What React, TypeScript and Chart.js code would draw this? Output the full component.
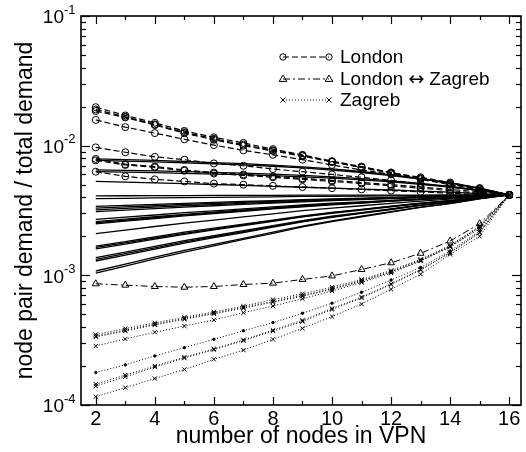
import React, { useEffect, useRef } from "react";
import { Chart, registerables } from "chart.js";

Chart.register(...registerables);

// number of nodes in VPN
const NODES = [2, 3, 4, 5, 6, 7, 8, 9, 10, 11, 12, 13, 14, 15, 16];

// London pairs (dashed, circles)
const LONDON_1 = [0.0198, 0.0171, 0.015, 0.013, 0.0116, 0.0105, 0.0094, 0.0085, 0.0076, 0.0069, 0.0062, 0.0057, 0.0052, 0.0047, 0.00417];
const LONDON_2 = [0.019, 0.0167, 0.0146, 0.0127, 0.0113, 0.0102, 0.0092, 0.0084, 0.0075, 0.0068, 0.0062, 0.0056, 0.0051, 0.0047, 0.00417];
const LONDON_3 = [0.0185, 0.0165, 0.0144, 0.0125, 0.0111, 0.01, 0.0091, 0.0083, 0.0075, 0.0068, 0.0061, 0.0056, 0.0051, 0.0046, 0.00417];
const LONDON_4 = [0.0158, 0.0139, 0.0125, 0.0112, 0.0101, 0.0092, 0.0085, 0.0078, 0.0071, 0.0065, 0.006, 0.0055, 0.005, 0.0046, 0.00417];
const LONDON_5 = [0.0097, 0.0089, 0.0082, 0.0078, 0.0073, 0.007, 0.0066, 0.0063, 0.006, 0.0057, 0.0054, 0.0051, 0.0048, 0.0045, 0.00417];
const LONDON_6 = [0.0079, 0.0072, 0.0069, 0.0065, 0.0062, 0.006, 0.0058, 0.0056, 0.0054, 0.0052, 0.005, 0.0048, 0.0046, 0.0044, 0.00417];
const LONDON_7 = [0.0077, 0.0071, 0.0068, 0.0064, 0.0061, 0.0059, 0.0057, 0.0055, 0.0053, 0.0051, 0.0049, 0.0047, 0.0045, 0.0043, 0.00417];
const LONDON_8 = [0.0063, 0.0058, 0.0055, 0.0053, 0.0051, 0.005, 0.0049, 0.0048, 0.0047, 0.0046, 0.0045, 0.0044, 0.0043, 0.0042, 0.00417];

// London <-> Zagreb (dash-dot, triangles)
const LONDON_ZAGREB = [0.00086, 0.00084, 0.00082, 0.00081, 0.00082, 0.00085, 0.00087, 0.00093, 0.00099, 0.00111, 0.00125, 0.00148, 0.00184, 0.0025, 0.00417];

// Zagreb pairs (dotted, crosses)
const ZAGREB_1 = [0.00035, 0.000388, 0.00043, 0.000475, 0.000522, 0.000578, 0.00065, 0.00072, 0.00081, 0.00093, 0.00109, 0.00133, 0.0017, 0.0024, 0.00417];
const ZAGREB_2 = [0.00034, 0.000378, 0.00042, 0.000465, 0.000512, 0.000565, 0.00063, 0.0007, 0.00079, 0.00091, 0.00107, 0.00131, 0.00168, 0.00237, 0.00417];
const ZAGREB_3 = [0.000335, 0.000372, 0.000414, 0.000458, 0.000505, 0.000558, 0.00062, 0.00069, 0.00078, 0.0009, 0.00106, 0.0013, 0.00167, 0.00235, 0.00417];
const ZAGREB_4 = [0.000285, 0.000323, 0.000364, 0.000406, 0.000453, 0.000515, 0.00058, 0.00066, 0.000757, 0.00088, 0.00104, 0.00129, 0.00165, 0.0023, 0.00417];
const ZAGREB_5 = [0.000178, 0.000204, 0.000239, 0.000277, 0.000321, 0.000374, 0.000432, 0.00051, 0.00061, 0.00074, 0.00092, 0.00115, 0.00154, 0.0022, 0.00417];
const ZAGREB_6 = [0.000145, 0.00017, 0.0002, 0.000234, 0.000271, 0.000318, 0.000377, 0.00045, 0.000555, 0.00068, 0.00086, 0.00111, 0.0015, 0.00215, 0.00417];
const ZAGREB_7 = [0.00014, 0.000165, 0.000196, 0.00023, 0.000267, 0.000313, 0.000372, 0.00044, 0.000545, 0.00067, 0.00085, 0.0011, 0.00149, 0.00213, 0.00417];
const ZAGREB_8 = [0.000116, 0.000136, 0.00016, 0.000188, 0.000225, 0.000265, 0.000321, 0.00039, 0.000481, 0.0006, 0.00078, 0.00102, 0.00145, 0.002, 0.00417];

// other node pairs (solid lines)
const OTHER_1 = [0.0079, 0.0078, 0.0077, 0.00755, 0.00741, 0.00727, 0.00709, 0.00686, 0.00661, 0.00632, 0.00596, 0.00559, 0.00518, 0.00471, 0.00417];
const OTHER_2 = [0.0077, 0.00761, 0.00751, 0.00738, 0.00724, 0.00711, 0.00694, 0.00673, 0.00648, 0.00621, 0.00588, 0.00553, 0.00514, 0.00469, 0.00417];
const OTHER_3 = [0.0065, 0.00644, 0.00639, 0.0063, 0.00622, 0.00614, 0.00603, 0.00589, 0.00574, 0.00556, 0.00535, 0.00511, 0.00485, 0.00454, 0.00417];
const OTHER_4 = [0.0063, 0.00625, 0.0062, 0.00612, 0.00604, 0.00597, 0.00587, 0.00575, 0.00561, 0.00545, 0.00525, 0.00504, 0.0048, 0.00451, 0.00417];
const OTHER_5 = [0.0053, 0.00524, 0.00516, 0.00509, 0.00502, 0.00494, 0.00486, 0.00478, 0.0047, 0.00462, 0.00455, 0.00446, 0.00438, 0.00427, 0.00417];
const OTHER_6 = [0.0041, 0.00411, 0.00412, 0.00412, 0.00413, 0.00414, 0.00414, 0.00415, 0.00415, 0.00416, 0.00416, 0.00416, 0.00417, 0.00417, 0.00417];
const OTHER_7 = [0.0039, 0.00392, 0.00395, 0.00397, 0.00399, 0.00401, 0.00403, 0.00406, 0.00407, 0.00409, 0.0041, 0.00412, 0.00413, 0.00415, 0.00417];
const OTHER_8 = [0.0034, 0.00346, 0.00353, 0.00359, 0.00365, 0.00371, 0.00377, 0.00384, 0.00389, 0.00394, 0.00399, 0.00404, 0.00408, 0.00413, 0.00417];
const OTHER_9 = [0.0033, 0.00337, 0.00344, 0.00352, 0.00358, 0.00365, 0.00372, 0.00379, 0.00385, 0.00391, 0.00396, 0.00402, 0.00406, 0.00412, 0.00417];
const OTHER_10 = [0.0032, 0.00328, 0.00336, 0.00344, 0.00351, 0.00359, 0.00366, 0.00374, 0.00381, 0.00387, 0.00393, 0.004, 0.00405, 0.00412, 0.00417];
const OTHER_11 = [0.0031, 0.00318, 0.00327, 0.00336, 0.00344, 0.00352, 0.00361, 0.00369, 0.00377, 0.00384, 0.00391, 0.00398, 0.00404, 0.00411, 0.00417];
const OTHER_12 = [0.0027, 0.00281, 0.00292, 0.00304, 0.00314, 0.00325, 0.00337, 0.00349, 0.0036, 0.00369, 0.00379, 0.00389, 0.00398, 0.00408, 0.00417];
const OTHER_13 = [0.0026, 0.00271, 0.00283, 0.00295, 0.00307, 0.00319, 0.00331, 0.00344, 0.00355, 0.00365, 0.00376, 0.00387, 0.00396, 0.00407, 0.00417];
const OTHER_14 = [0.00255, 0.00266, 0.00278, 0.00291, 0.00303, 0.00315, 0.00328, 0.00341, 0.00352, 0.00363, 0.00374, 0.00385, 0.00395, 0.00406, 0.00417];
const OTHER_15 = [0.0025, 0.00262, 0.00274, 0.00287, 0.00299, 0.00312, 0.00325, 0.00338, 0.0035, 0.00361, 0.00373, 0.00384, 0.00394, 0.00406, 0.00417];
const OTHER_16 = [0.0021, 0.00223, 0.00238, 0.00253, 0.00267, 0.00282, 0.00298, 0.00315, 0.0033, 0.00344, 0.00359, 0.00374, 0.00387, 0.00403, 0.00417];
const OTHER_17 = [0.00168, 0.00182, 0.00198, 0.00215, 0.00231, 0.00248, 0.00267, 0.00287, 0.00306, 0.00323, 0.00341, 0.00361, 0.00377, 0.00398, 0.00417];
const OTHER_18 = [0.00164, 0.00178, 0.00194, 0.00211, 0.00227, 0.00245, 0.00264, 0.00284, 0.00304, 0.00321, 0.0034, 0.00359, 0.00376, 0.00398, 0.00417];
const OTHER_19 = [0.0016, 0.00174, 0.0019, 0.00207, 0.00224, 0.00242, 0.00261, 0.00282, 0.00301, 0.00319, 0.00338, 0.00358, 0.00375, 0.00397, 0.00417];
const OTHER_20 = [0.00137, 0.00151, 0.00167, 0.00185, 0.00202, 0.00221, 0.00242, 0.00264, 0.00286, 0.00305, 0.00326, 0.00349, 0.00369, 0.00394, 0.00417];
const OTHER_21 = [0.00133, 0.00147, 0.00163, 0.00181, 0.00198, 0.00217, 0.00238, 0.00261, 0.00283, 0.00303, 0.00324, 0.00347, 0.00368, 0.00394, 0.00417];
const OTHER_22 = [0.00129, 0.00143, 0.00159, 0.00177, 0.00195, 0.00214, 0.00235, 0.00258, 0.0028, 0.003, 0.00322, 0.00346, 0.00367, 0.00393, 0.00417];
const OTHER_23 = [0.00108, 0.00122, 0.00138, 0.00156, 0.00173, 0.00193, 0.00215, 0.0024, 0.00263, 0.00286, 0.0031, 0.00336, 0.00359, 0.0039, 0.00417];
const OTHER_24 = [0.00104, 0.00118, 0.00134, 0.00151, 0.00169, 0.00189, 0.00211, 0.00236, 0.0026, 0.00283, 0.00307, 0.00334, 0.00358, 0.00389, 0.00417];

const LONDON_SERIES = [LONDON_1, LONDON_2, LONDON_3, LONDON_4, LONDON_5, LONDON_6, LONDON_7, LONDON_8];
const ZAGREB_SERIES = [ZAGREB_1, ZAGREB_2, ZAGREB_3, ZAGREB_4, ZAGREB_5, ZAGREB_6, ZAGREB_7, ZAGREB_8];
const OTHER_SERIES = [
  OTHER_1, OTHER_2, OTHER_3, OTHER_4, OTHER_5, OTHER_6, OTHER_7, OTHER_8, OTHER_9, OTHER_10, OTHER_11, OTHER_12,
  OTHER_13, OTHER_14, OTHER_15, OTHER_16, OTHER_17, OTHER_18, OTHER_19, OTHER_20, OTHER_21, OTHER_22, OTHER_23, OTHER_24,
];

const X_TICKS = [2, 4, 6, 8, 10, 12, 14, 16];
const Y_DECADES = [-4, -3, -2, -1];
const LEGEND_LABELS = [["London"], ["London", "\u2194", "Zagreb"], ["Zagreb"]];
const X_TITLE = "number of nodes in VPN";
const Y_TITLE = "node pair demand / total demand";

const FONT = '"Liberation Sans", Arial, Helvetica, sans-serif';

const pts = (vals: number[]) => vals.map((v, i) => ({ x: NODES[i], y: v }));

function drawMarker(ctx: CanvasRenderingContext2D, style: string, x: number, y: number, r: number) {
  ctx.beginPath();
  if (style === "circle") {
    ctx.arc(x, y, r, 0, Math.PI * 2);
  } else if (style === "triangle") {
    ctx.moveTo(x, y - r);
    ctx.lineTo(x + r * 0.95, y + r * 0.6);
    ctx.lineTo(x - r * 0.95, y + r * 0.6);
    ctx.closePath();
  } else {
    ctx.moveTo(x - r, y - r);
    ctx.lineTo(x + r, y + r);
    ctx.moveTo(x + r, y - r);
    ctx.lineTo(x - r, y + r);
  }
  ctx.stroke();
}

const framePlugin = {
  id: "framePlugin",
  afterDraw(chart: any) {
    const { ctx, chartArea } = chart;
    const { left, right, top, bottom } = chartArea;
    const xs = chart.scales.x;
    const ys = chart.scales.y;
    ctx.save();
    ctx.strokeStyle = "#000";
    ctx.fillStyle = "#000";
    ctx.setLineDash([]);
    ctx.lineWidth = 1.6;
    ctx.strokeRect(left, top, right - left, bottom - top);

    ctx.lineWidth = 1.2;
    const seg = (x1: number, y1: number, x2: number, y2: number) => {
      ctx.beginPath();
      ctx.moveTo(x1, y1);
      ctx.lineTo(x2, y2);
      ctx.stroke();
    };
    // x ticks (major at even, minor at odd)
    for (let t = 2; t <= 16; t++) {
      const px = Math.round(xs.getPixelForValue(t)) + 0.5;
      const len = t % 2 === 0 ? 8 : 4;
      seg(px, bottom, px, bottom - len);
      seg(px, top, px, top + len);
    }
    // y ticks
    for (const d of Y_DECADES) {
      for (let m = 1; m <= 9; m++) {
        if (d === -1 && m > 1) break;
        const v = m * Math.pow(10, d);
        const py = Math.round(ys.getPixelForValue(v)) + 0.5;
        const len = m === 1 ? 9 : 5;
        seg(left, py, left + len, py);
        seg(right, py, right - len, py);
      }
    }

    // x tick labels
    ctx.font = `20px ${FONT}`;
    ctx.textAlign = "center";
    ctx.textBaseline = "middle";
    for (const t of X_TICKS) {
      ctx.fillText(String(t), xs.getPixelForValue(t), bottom + 14);
    }
    // y tick labels with superscript exponent
    for (const d of Y_DECADES) {
      const py = ys.getPixelForValue(Math.pow(10, d));
      ctx.font = `19px ${FONT}`;
      ctx.textAlign = "right";
      ctx.textBaseline = "middle";
      ctx.fillText("10", 64, py + 2);
      ctx.font = `13px ${FONT}`;
      ctx.textAlign = "left";
      ctx.fillText(String(d), 64, py - 6);
    }

    // axis titles
    ctx.font = `23px ${FONT}`;
    ctx.textAlign = "center";
    ctx.textBaseline = "middle";
    ctx.fillText(X_TITLE, (left + right) / 2, 437);
    ctx.save();
    ctx.translate(26, (top + bottom) / 2);
    ctx.rotate(-Math.PI / 2);
    ctx.fillText(Y_TITLE, 0, 0);
    ctx.restore();

    // legend
    const rows = [
      { y: 57, dash: [6, 3], style: "circle", r: 3.2 },
      { y: 79, dash: [7, 3, 2, 3], style: "triangle", r: 4 },
      { y: 100, dash: [1, 2], style: "cross", r: 2.5 },
    ];
    rows.forEach((row, i) => {
      ctx.lineWidth = 1;
      ctx.setLineDash(row.dash);
      seg(283, row.y, 329, row.y);
      ctx.setLineDash([]);
      drawMarker(ctx, row.style, 283, row.y, row.r);
      drawMarker(ctx, row.style, 329, row.y, row.r);
      ctx.textAlign = "left";
      ctx.textBaseline = "middle";
      const parts = LEGEND_LABELS[i];
      let x = 340;
      parts.forEach((p, k) => {
        const isArrow = p === "\u2194";
        ctx.font = isArrow ? `19px "DejaVu Sans", sans-serif` : `19px ${FONT}`;
        if (k > 0) x += 5;
        ctx.fillText(p, x, row.y + 1);
        x += ctx.measureText(p).width;
      });
    });
    ctx.restore();
  },
};

export default function App() {
  const canvasRef = useRef<HTMLCanvasElement | null>(null);

  useEffect(() => {
    if (!canvasRef.current) return;
    const datasets: any[] = [];
    ZAGREB_SERIES.forEach((s, i) => {
      const dot = i === 4;
      datasets.push({
        data: pts(s),
        borderColor: "#000",
        borderWidth: 1,
        borderDash: [1, 2],
        pointStyle: dot ? "circle" : "crossRot",
        pointRadius: dot ? 1.2 : 3,
        pointBorderWidth: 1,
        pointBackgroundColor: "#000",
        pointBorderColor: "#000",
        fill: false,
      });
    });
    datasets.push({
      data: pts(LONDON_ZAGREB),
      borderColor: "#000",
      borderWidth: 1,
      borderDash: [7, 3, 2, 3],
      pointStyle: "triangle",
      pointRadius: 4,
      pointBorderWidth: 1,
      pointBackgroundColor: "rgba(0,0,0,0)",
      pointBorderColor: "#000",
      fill: false,
    });
    LONDON_SERIES.forEach((s) => {
      datasets.push({
        data: pts(s),
        borderColor: "#000",
        borderWidth: 1.2,
        borderDash: [6, 3],
        pointStyle: "circle",
        pointRadius: 3.5,
        pointBorderWidth: 1,
        pointBackgroundColor: "rgba(0,0,0,0)",
        pointBorderColor: "#000",
        fill: false,
      });
    });
    OTHER_SERIES.forEach((s) => {
      datasets.push({
        data: pts(s),
        borderColor: "#000",
        borderWidth: 1.3,
        pointRadius: 0,
        fill: false,
      });
    });

    const chart = new Chart(canvasRef.current, {
      type: "line",
      data: { datasets },
      options: {
        animation: false,
        responsive: false,
        maintainAspectRatio: false,
        devicePixelRatio: 1,
        layout: { padding: { top: 16, right: 4, left: 0, bottom: 0 } },
        plugins: { legend: { display: false }, tooltip: { enabled: false } },
        elements: { line: { tension: 0 } },
        scales: {
          x: {
            type: "linear",
            min: 1.5,
            max: 16.4,
            grid: { display: false },
            border: { display: false },
            ticks: { display: false },
            afterFit: (scale: any) => {
              scale.height = 47;
            },
          },
          y: {
            type: "logarithmic",
            min: 0.0001,
            max: 0.1,
            grid: { display: false },
            border: { display: false },
            ticks: { display: false },
            afterFit: (scale: any) => {
              scale.width = 81;
            },
          },
        },
      },
      plugins: [framePlugin],
    });
    return () => chart.destroy();
  }, []);

  return (
    <div style={{ position: "absolute", left: 0, top: 0, width: 526, height: 452, background: "#fff" }}>
      <canvas ref={canvasRef} width={526} height={452} style={{ display: "block" }} />
    </div>
  );
}
